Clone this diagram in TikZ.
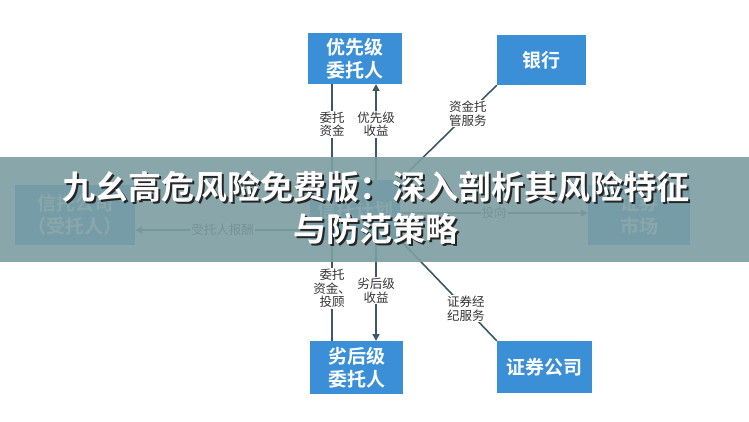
\documentclass[tikz,border=0pt]{standalone}
\usepackage{fontspec}
\setmainfont{Noto Sans CJK SC}[BoldFont=Noto Sans CJK SC Bold]
\usetikzlibrary{arrows.meta}
\definecolor{boxb}{HTML}{3A8FD6}
\definecolor{lin}{HTML}{3F5868}
\definecolor{band}{HTML}{7D9EA2}
\tikzset{
 box/.style={fill=boxb,text=white,font=\bfseries\fontsize{19}{23}\selectfont,align=center,inner sep=0pt},
 lab/.style={fill=white,text=black!80,font=\fontsize{12.5}{13.5}\selectfont,align=center,inner sep=1pt},
 ln/.style={draw=lin,line width=1.6pt},
 ar/.style={ln,-{Triangle[length=7pt,width=7pt]}},
 ttl/.style={font=\bfseries\fontsize{33}{42}\selectfont,align=center}
}
\begin{document}
\begin{tikzpicture}[x=1pt,y=-1pt]
\useasboundingbox (0,0) rectangle (749,422);
\fill[white] (0,0) rectangle (749,422);
\node[box,minimum width=94pt,minimum height=51pt] (pri) at (355,58.5) {优先级\\委托人};
\node[box,minimum width=89pt,minimum height=50pt] (bank) at (541.5,60) {银行};
\node[box,minimum width=93pt,minimum height=53pt] (sub) at (356.5,367.5) {劣后级\\委托人};
\node[box,minimum width=95pt,minimum height=52pt] (sec) at (544.5,367) {证券公司};
\node[box,minimum width=90pt,minimum height=60pt] (ctr) at (355,210) {信托计划};
\node[box,minimum width=120pt,minimum height=60pt] (tc) at (75,215) {信托公司\\（受托人）};
\node[box,minimum width=102pt,minimum height=60pt] (mk) at (639,215) {证券\\市场};
\coordinate (a1) at (332,180); \coordinate (a1t) at (332,84);
\coordinate (a2) at (376,180); \coordinate (a2t) at (376,84);
\coordinate (b1) at (332,240); \coordinate (b1t) at (332,341);
\coordinate (b2) at (376,240); \coordinate (b2t) at (376,341);
\draw[ln] (a1t) -- node[lab,pos=0.42]{委托\\资金} (a1);
\draw[ar] (a2) -- node[lab,pos=0.58]{优先级\\收益} (a2t);
\draw[ln] (bank.south west) -- node[lab,pos=0.3]{资金托\\管服务} (ctr.north east);
\draw[ln] (b1) -- node[lab,pos=0.48]{委托\\资金、\\投顾} (b1t);
\draw[ar] (b2) -- node[lab,pos=0.5]{劣后级\\收益} (b2t);
\draw[ln] (ctr.south east) -- node[lab,pos=0.68]{证券经\\纪服务} (sec.north west);
\draw[ar] (ctr.west|-0,230) -- node[lab]{受托人报酬} (tc.east|-0,230);
\draw[ar] (ctr.east|-0,213) -- node[lab]{投向} (mk.west|-0,213);
\fill[band,opacity=0.9] (0,157) rectangle (749,262);
\node[ttl,text=black!85] at (377.5,209.5) {九幺高危风险免费版：深入剖析其风险特征\\与防范策略};
\node[ttl,text=white] (title) at (376,208) {九幺高危风险免费版：深入剖析其风险特征\\与防范策略};
\end{tikzpicture}
\end{document}
